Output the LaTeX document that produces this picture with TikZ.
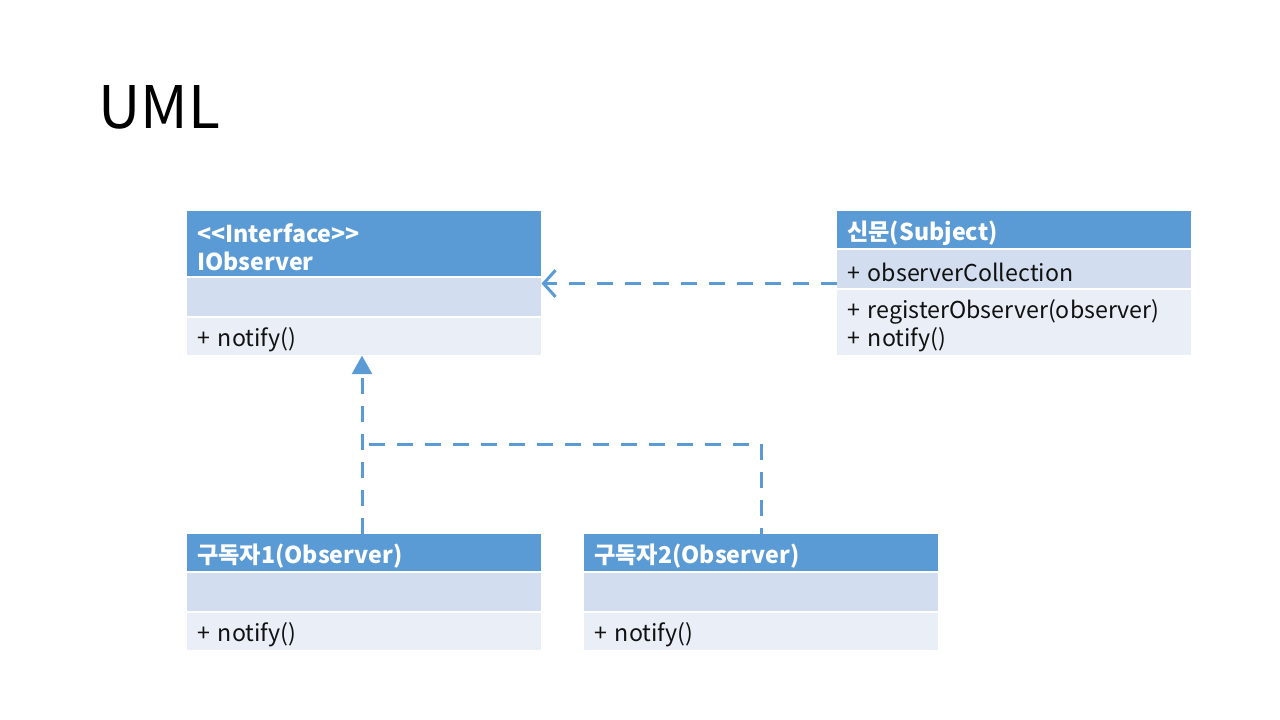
\documentclass[tikz,border=0pt]{standalone}
\usepackage{fontspec}
\setmainfont{Noto Sans CJK KR}
\usetikzlibrary{arrows.meta}
\definecolor{hdrblue}{HTML}{5B9BD5}
\definecolor{attrfill}{HTML}{D2DEEF}
\definecolor{methfill}{HTML}{EAEFF7}
\definecolor{txt}{HTML}{111111}
\newcommand\lowr[1]{\raisebox{-2.4pt}[\height][\depth]{#1}}
\tikzset{
  comp/.style={anchor=north west, minimum width={0.75*354pt}, text width={0.75*354pt-15pt},
    inner xsep=7.5pt, inner ysep=0pt, align=left, font=\fontsize{17.4pt}{21pt}\selectfont, text=txt},
  hdr/.style={comp, fill=hdrblue, text=white, font=\fontsize{17.4pt}{21pt}\selectfont\bfseries},
  attr/.style={comp, fill=attrfill},
  meth/.style={comp, fill=methfill},
  conn/.style={draw=hdrblue, line width=2.25pt, dash pattern=on 12pt off 9pt},
  dep/.style={conn, -{Straight Barb[length=9pt,width=20pt,line width=2.25pt]}},
  real/.style={conn, -{Triangle[length=14pt,width=15pt]}},
}
\begin{document}
\begin{tikzpicture}[x=0.75pt,y=-0.75pt]
\useasboundingbox (0,0) rectangle (1280,720);
\node[anchor=west, inner sep=0pt, font=\fontsize{44pt}{50pt}\selectfont] (title) at (98,107) {UML};
% IObserver
\node[hdr, minimum height={0.75*65pt}] (iohdr) at (187,211) {\lowr{<{}<Interface>{}>}\\\lowr{IObserver}};
\node[attr, minimum height={0.75*38pt}] (ioattr) at (187,278) {};
\node[meth, minimum height={0.75*37pt}] (iometh) at (187,318) {\lowr{+\ notify()}};
% Subject
\node[hdr, minimum height={0.75*37pt}] (subhdr) at (837,211) {\lowr{신문(Subject)}};
\node[attr, minimum height={0.75*38pt}] (subattr) at (837,250) {\lowr{+\ observerCollection}};
\node[meth, minimum height={0.75*65pt}] (submeth) at (837,290) {\lowr{+\ registerObserver(observer)}\\\lowr{+\ notify()}};
% Observer1
\node[hdr, minimum height={0.75*37pt}] (o1hdr) at (187,534) {\lowr{구독자1(Observer)}};
\node[attr, minimum height={0.75*38pt}] (o1attr) at (187,573) {};
\node[meth, minimum height={0.75*37pt}] (o1meth) at (187,613) {\lowr{+\ notify()}};
% Observer2
\node[hdr, minimum height={0.75*37pt}] (o2hdr) at (584,534) {\lowr{구독자2(Observer)}};
\node[attr, minimum height={0.75*38pt}] (o2attr) at (584,573) {};
\node[meth, minimum height={0.75*37pt}] (o2meth) at (584,613) {\lowr{+\ notify()}};
% connectors
\coordinate (depstart) at ([yshift=3.75pt]subattr.south west);
\draw[dep] (depstart) -- (depstart -| ioattr.east);
\coordinate (join) at (362,444);
\draw[real] (o1hdr.north -| join) -- (iometh.south -| join);
\draw[conn] ([yshift=-7.5pt]o2hdr.north) |- (join);
\end{tikzpicture}
\end{document}
